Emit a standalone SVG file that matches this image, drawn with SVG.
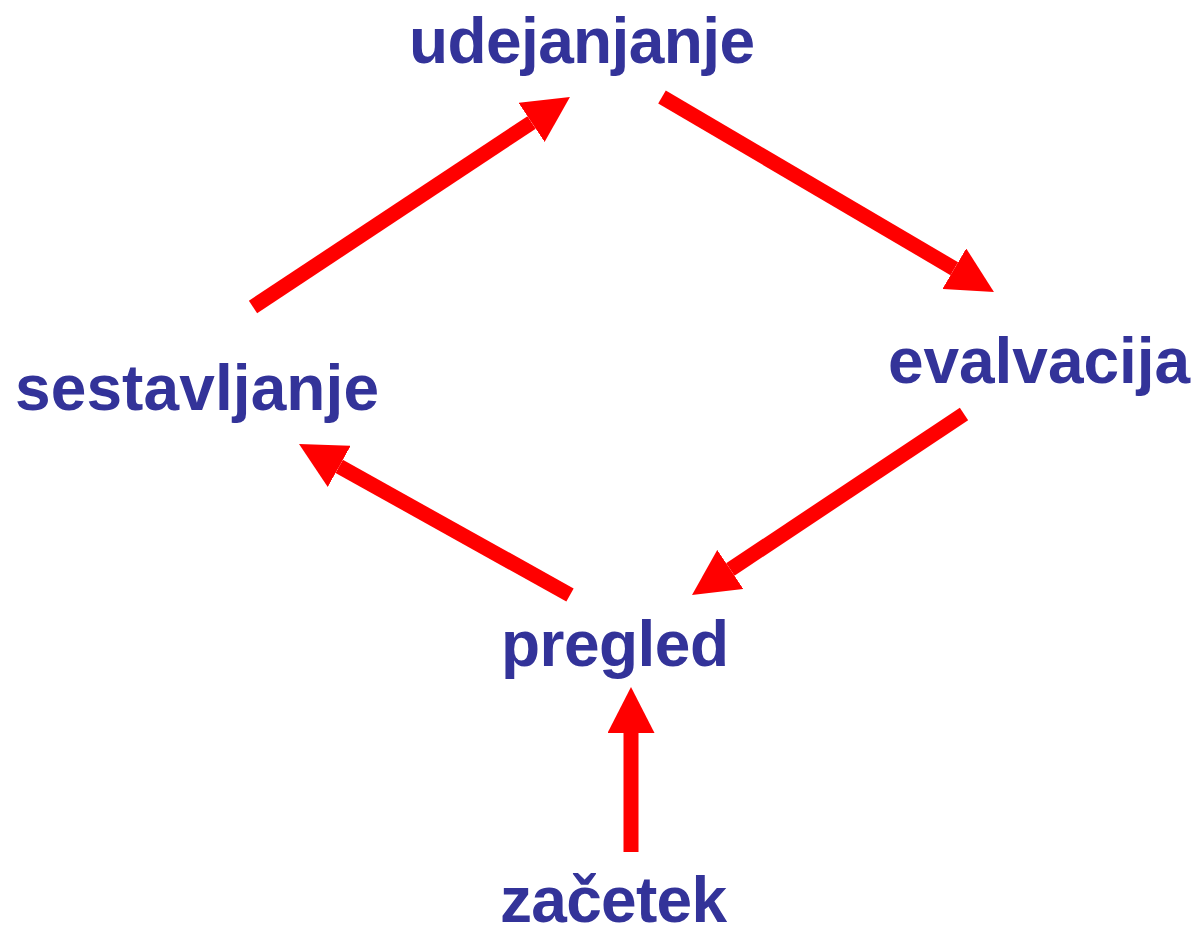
<svg xmlns="http://www.w3.org/2000/svg" width="1196" height="926" viewBox="0 0 1196 926">
<style>
.lbl{font-family:"Liberation Sans",Arial,sans-serif;font-weight:bold;font-size:64px;fill:#333399}
.arr{stroke:#FF0000;stroke-width:15;fill:none;stroke-linecap:butt}
</style>
<defs>
<marker id="head" markerUnits="userSpaceOnUse" viewBox="0 0 46 47" markerWidth="46" markerHeight="47" refX="0" refY="23.5" orient="auto">
<path d="M0,0 L46,23.5 L0,47 Z" fill="#FF0000"/>
</marker>
</defs>
<rect width="1196" height="926" fill="#FFFFFF"/>
<g id="connectors">
<line class="arr" x1="253" y1="307" x2="531.6" y2="122.4" marker-end="url(#head)"/>
<line class="arr" x1="662" y1="97" x2="954.3" y2="268.7" marker-end="url(#head)"/>
<line class="arr" x1="964" y1="414" x2="730.3" y2="569.5" marker-end="url(#head)"/>
<line class="arr" x1="570" y1="595" x2="339.2" y2="466.4" marker-end="url(#head)"/>
<line class="arr" x1="631" y1="852" x2="631" y2="733" marker-end="url(#head)"/>
</g>
<g id="udejanjanje"><text class="lbl" x="409" y="63" textLength="346" lengthAdjust="spacing">udejanjanje</text></g>
<g id="evalvacija"><text class="lbl" x="888" y="383" textLength="302" lengthAdjust="spacing">evalvacija</text></g>
<g id="sestavljanje"><text class="lbl" x="15" y="410" textLength="364" lengthAdjust="spacing">sestavljanje</text></g>
<g id="pregled"><text class="lbl" x="501" y="666" textLength="228" lengthAdjust="spacing">pregled</text></g>
<g id="zacetek"><text class="lbl" x="500" y="922" textLength="227" lengthAdjust="spacing">začetek</text></g>
</svg>
